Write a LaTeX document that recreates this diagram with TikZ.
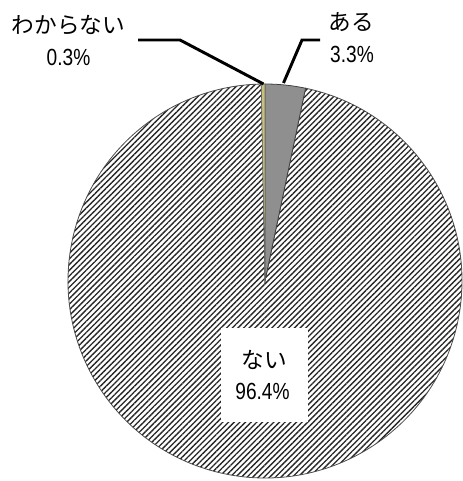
\documentclass[tikz,border=0pt]{standalone}
\usepackage{fontspec}
\newfontfamily\jp{Noto Sans CJK JP}
\newfontfamily\numfont[FakeStretch=0.82]{Liberation Sans}
\usetikzlibrary{patterns.meta}
\definecolor{slicegray}{HTML}{8F8F8F}
\definecolor{olive}{HTML}{C8C080}
\tikzset{
  jptext/.style={font=\jp\fontsize{17}{20}\selectfont, inner sep=0pt, anchor=center},
  numtext/.style={font=\numfont\fontsize{17.5}{20}\selectfont, inner sep=0pt, anchor=center},
  leader/.style={draw=black, line width=2.2pt},
  hatch/.style={pattern={Lines[angle=45,distance=3.0pt,line width=1.0pt]}, pattern color=black!85},
}
\begin{document}
\begin{tikzpicture}[x=0.75pt,y=0.75pt]
\useasboundingbox (0,0) rectangle (462,481);
\coordinate (c) at (265,200);
% ない slice (hatched)
\fill[white] (c) circle (197);
\fill[hatch] (c) -- ++(78.12:197) arc[start angle=78.12, end angle=-268.92, radius=197] -- cycle;
\draw[draw=black!70, line width=0.6pt] (c) -- ++(78.12:197) arc[start angle=78.12, end angle=-268.92, radius=197] -- cycle;
% ある slice
\filldraw[fill=slicegray, draw=black!75, line width=0.6pt] (c) -- ++(90:197) arc[start angle=90, end angle=78.12, radius=197] -- cycle;
% わからない slice
\filldraw[fill=olive, draw=black!60, line width=0.4pt] (c) -- ++(91.08:197) arc[start angle=91.08, end angle=90, radius=197] -- cycle;
% label box for ない
\node[fill=white, minimum width=65, minimum height=70, inner sep=0pt] (nbox) at (264.5,106) {};
\node[jptext] (nai) at (264,121) {ない};
\node[numtext] (naip) at (262.5,90) {96.4\%};
% わからない
\node[jptext] (wak) at (68.5,456) {わからない};
\node[numtext] (wakp) at (68.5,423.5) {0.3\%};
\coordinate (wakA) at (138,441);
\coordinate (wakB) at (180,441);
\coordinate (wakC) at (263.5,397);
\draw[leader] (wakA) -- (wakB) -- (wakC);
% ある
\node[jptext] (aru) at (351,459) {ある};
\node[numtext] (arup) at (352,426.5) {3.3\%};
\coordinate (aruA) at (320,441);
\coordinate (aruB) at (302,441);
\coordinate (aruC) at (283.5,398);
\draw[leader] (aruA) -- (aruB) -- (aruC);
\end{tikzpicture}
\end{document}
